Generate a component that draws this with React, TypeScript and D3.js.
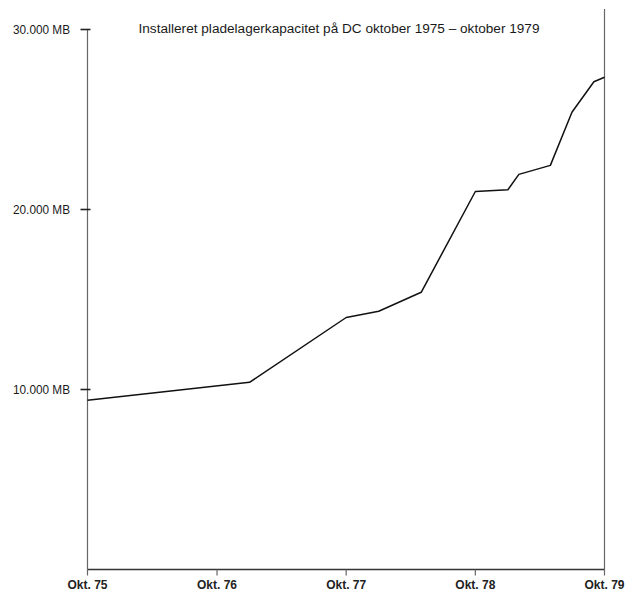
import React from "react";
import * as d3 from "d3";

const dateLabels = ["1975-10", "1977-01", "1977-10", "1978-01", "1978-05", "1978-10", "1979-01", "1979-02", "1979-05", "1979-07", "1979-09", "1979-10"];
const capacityMB = [9400, 10400, 14000, 14350, 15400, 21000, 21100, 21950, 22450, 25400, 27100, 27350];
const yTickValues = [10000, 20000, 30000];
const yTickLabels = ["10.000 MB", "20.000 MB", "30.000 MB"];
const xTickDates = ["1975-10", "1976-10", "1977-10", "1978-10", "1979-10"];
const xTickLabels = ["Okt. 75", "Okt. 76", "Okt. 77", "Okt. 78", "Okt. 79"];
const title = "Installeret pladelagerkapacitet på DC oktober 1975 – oktober 1979";

const parse = d3.timeParse("%Y-%m");

export default function App() {
  const W = 634, H = 593;
  const x = d3.scaleTime().domain([parse("1975-10")!, parse("1979-10")!]).range([87.5, 604.5]);
  const y = d3.scaleLinear().domain([0, 30000]).range([569.5, 29.5]);
  const data = dateLabels.map((d, i) => ({ date: parse(d)!, v: capacityMB[i] }));
  const line = d3.line<{ date: Date; v: number }>().x(d => x(d.date)).y(d => y(d.v));
  const font = "'Liberation Sans', Arial, Helvetica, sans-serif";
  const axisColor = "#666";
  const x0 = x(parse("1975-10")!);
  const x1 = x(parse("1979-10")!);
  return (
    <svg width={W} height={H} style={{ position: "absolute", left: 0, top: 0, background: "#fff" }} fontFamily={font}>
      <rect width={W} height={H} fill="#fff" />
      <line x1={x0} x2={x0} y1={y(30000)} y2={y(0)} stroke={axisColor} strokeWidth={1.2} />
      <line x1={x1} x2={x1} y1={9} y2={y(0)} stroke={axisColor} strokeWidth={1.2} />
      <line x1={x0} x2={x1} y1={y(0)} y2={y(0)} stroke="#333" strokeWidth={1.4} />
      {yTickValues.map((v, i) => (
        <g key={v}>
          <line x1={x0 - 7} x2={x0 + 3} y1={y(v)} y2={y(v)} stroke="#222" strokeWidth={1.6} />
          <text x={70} y={y(v)} dy="0.35em" textAnchor="end" fontSize={12.5} fill="#1a1a1a" textLength={57} lengthAdjust="spacingAndGlyphs">{yTickLabels[i]}</text>
        </g>
      ))}
      {xTickDates.map((d, i) => {
        const xx = x(parse(d)!);
        return (
          <g key={d}>
            <line x1={xx} x2={xx} y1={y(0)} y2={y(0) + 6} stroke={axisColor} strokeWidth={1.2} />
            <text x={xx} y={589} textAnchor="middle" fontSize={12} fontWeight="bold" fill="#222">{xTickLabels[i]}</text>
          </g>
        );
      })}
      <text x={138.5} y={33} fontSize={12.5} fill="#1a1a1a" textLength={401} lengthAdjust="spacingAndGlyphs">{title}</text>
      <path d={line(data)!} fill="none" stroke="#111" strokeWidth={1.5} strokeLinejoin="round" />
    </svg>
  );
}
